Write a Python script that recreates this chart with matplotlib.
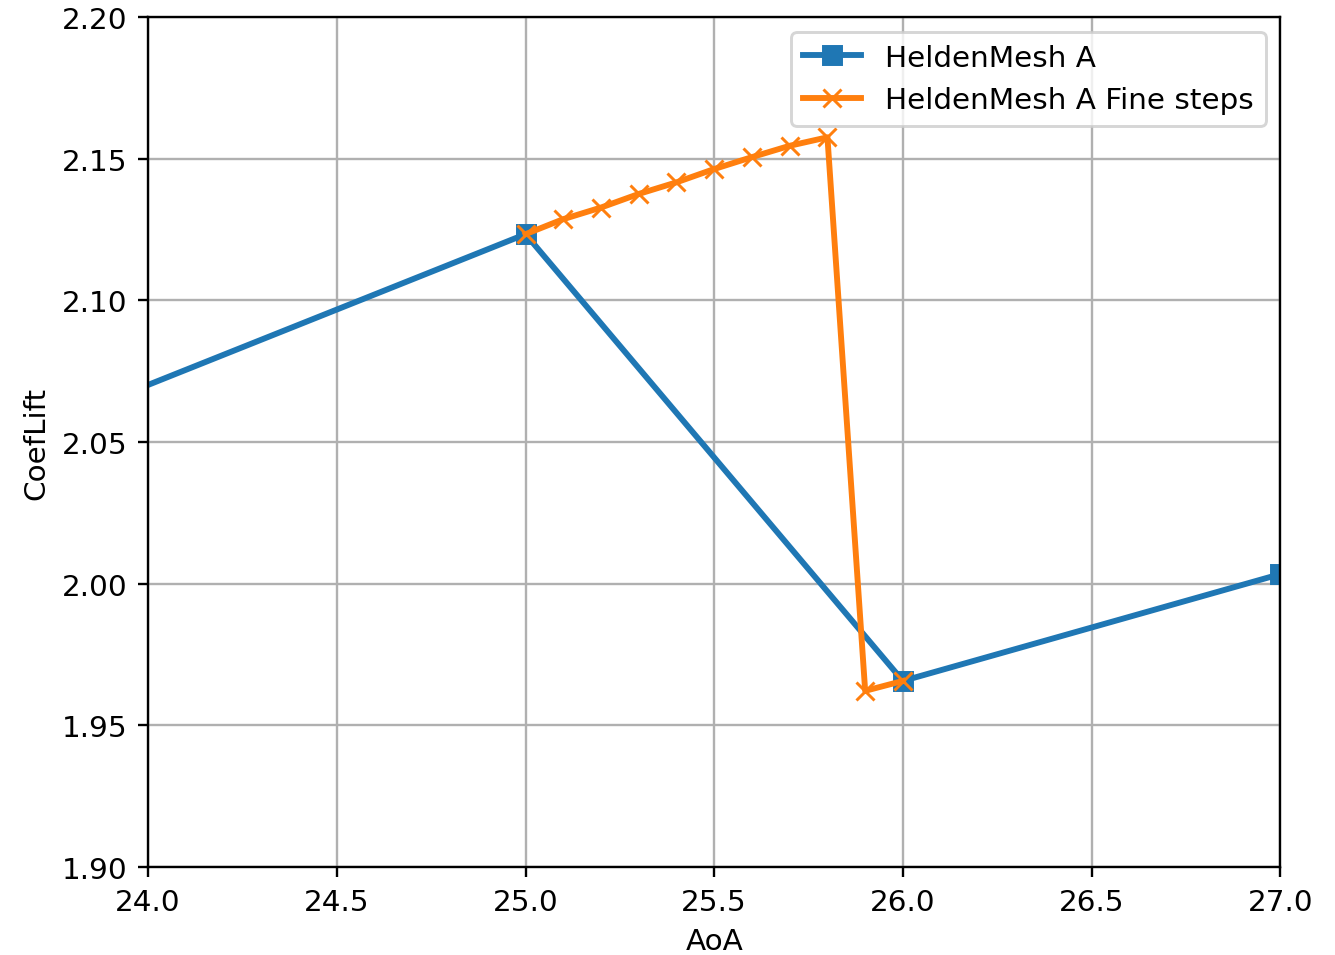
import matplotlib
matplotlib.use("Agg")
import matplotlib.pyplot as plt

# coarse sweep
aoa_coarse = [23.0, 25.0, 26.0, 27.0]
cl_coarse = [2.017, 2.1234, 1.9657, 2.0034]

# fine sweep
aoa_fine = [25.0, 25.1, 25.2, 25.3, 25.4, 25.5, 25.6, 25.7, 25.8, 25.9, 26.0]
cl_fine = [2.1234, 2.1287, 2.1328, 2.1376, 2.1417, 2.1464, 2.1506, 2.1546,
           2.1576, 1.9622, 1.9657]

DPI = 212
fig = plt.figure(figsize=(1335 / DPI, 956 / DPI), dpi=DPI)
ax = fig.add_axes([0.111, 0.092, 0.848, 0.889])

ax.plot(aoa_coarse, cl_coarse, marker="s", linewidth=2, label="HeldenMesh A")
ax.plot(aoa_fine, cl_fine, marker="x", linewidth=2,
        label="HeldenMesh A Fine steps")

ax.set_xlim(24, 27)
ax.set_ylim(1.90, 2.20)
ax.set_xlabel("AoA")
ax.set_ylabel("CoefLift")
ax.grid(True)
ax.legend(loc="upper right")

fig.savefig("out.png", dpi=DPI)
